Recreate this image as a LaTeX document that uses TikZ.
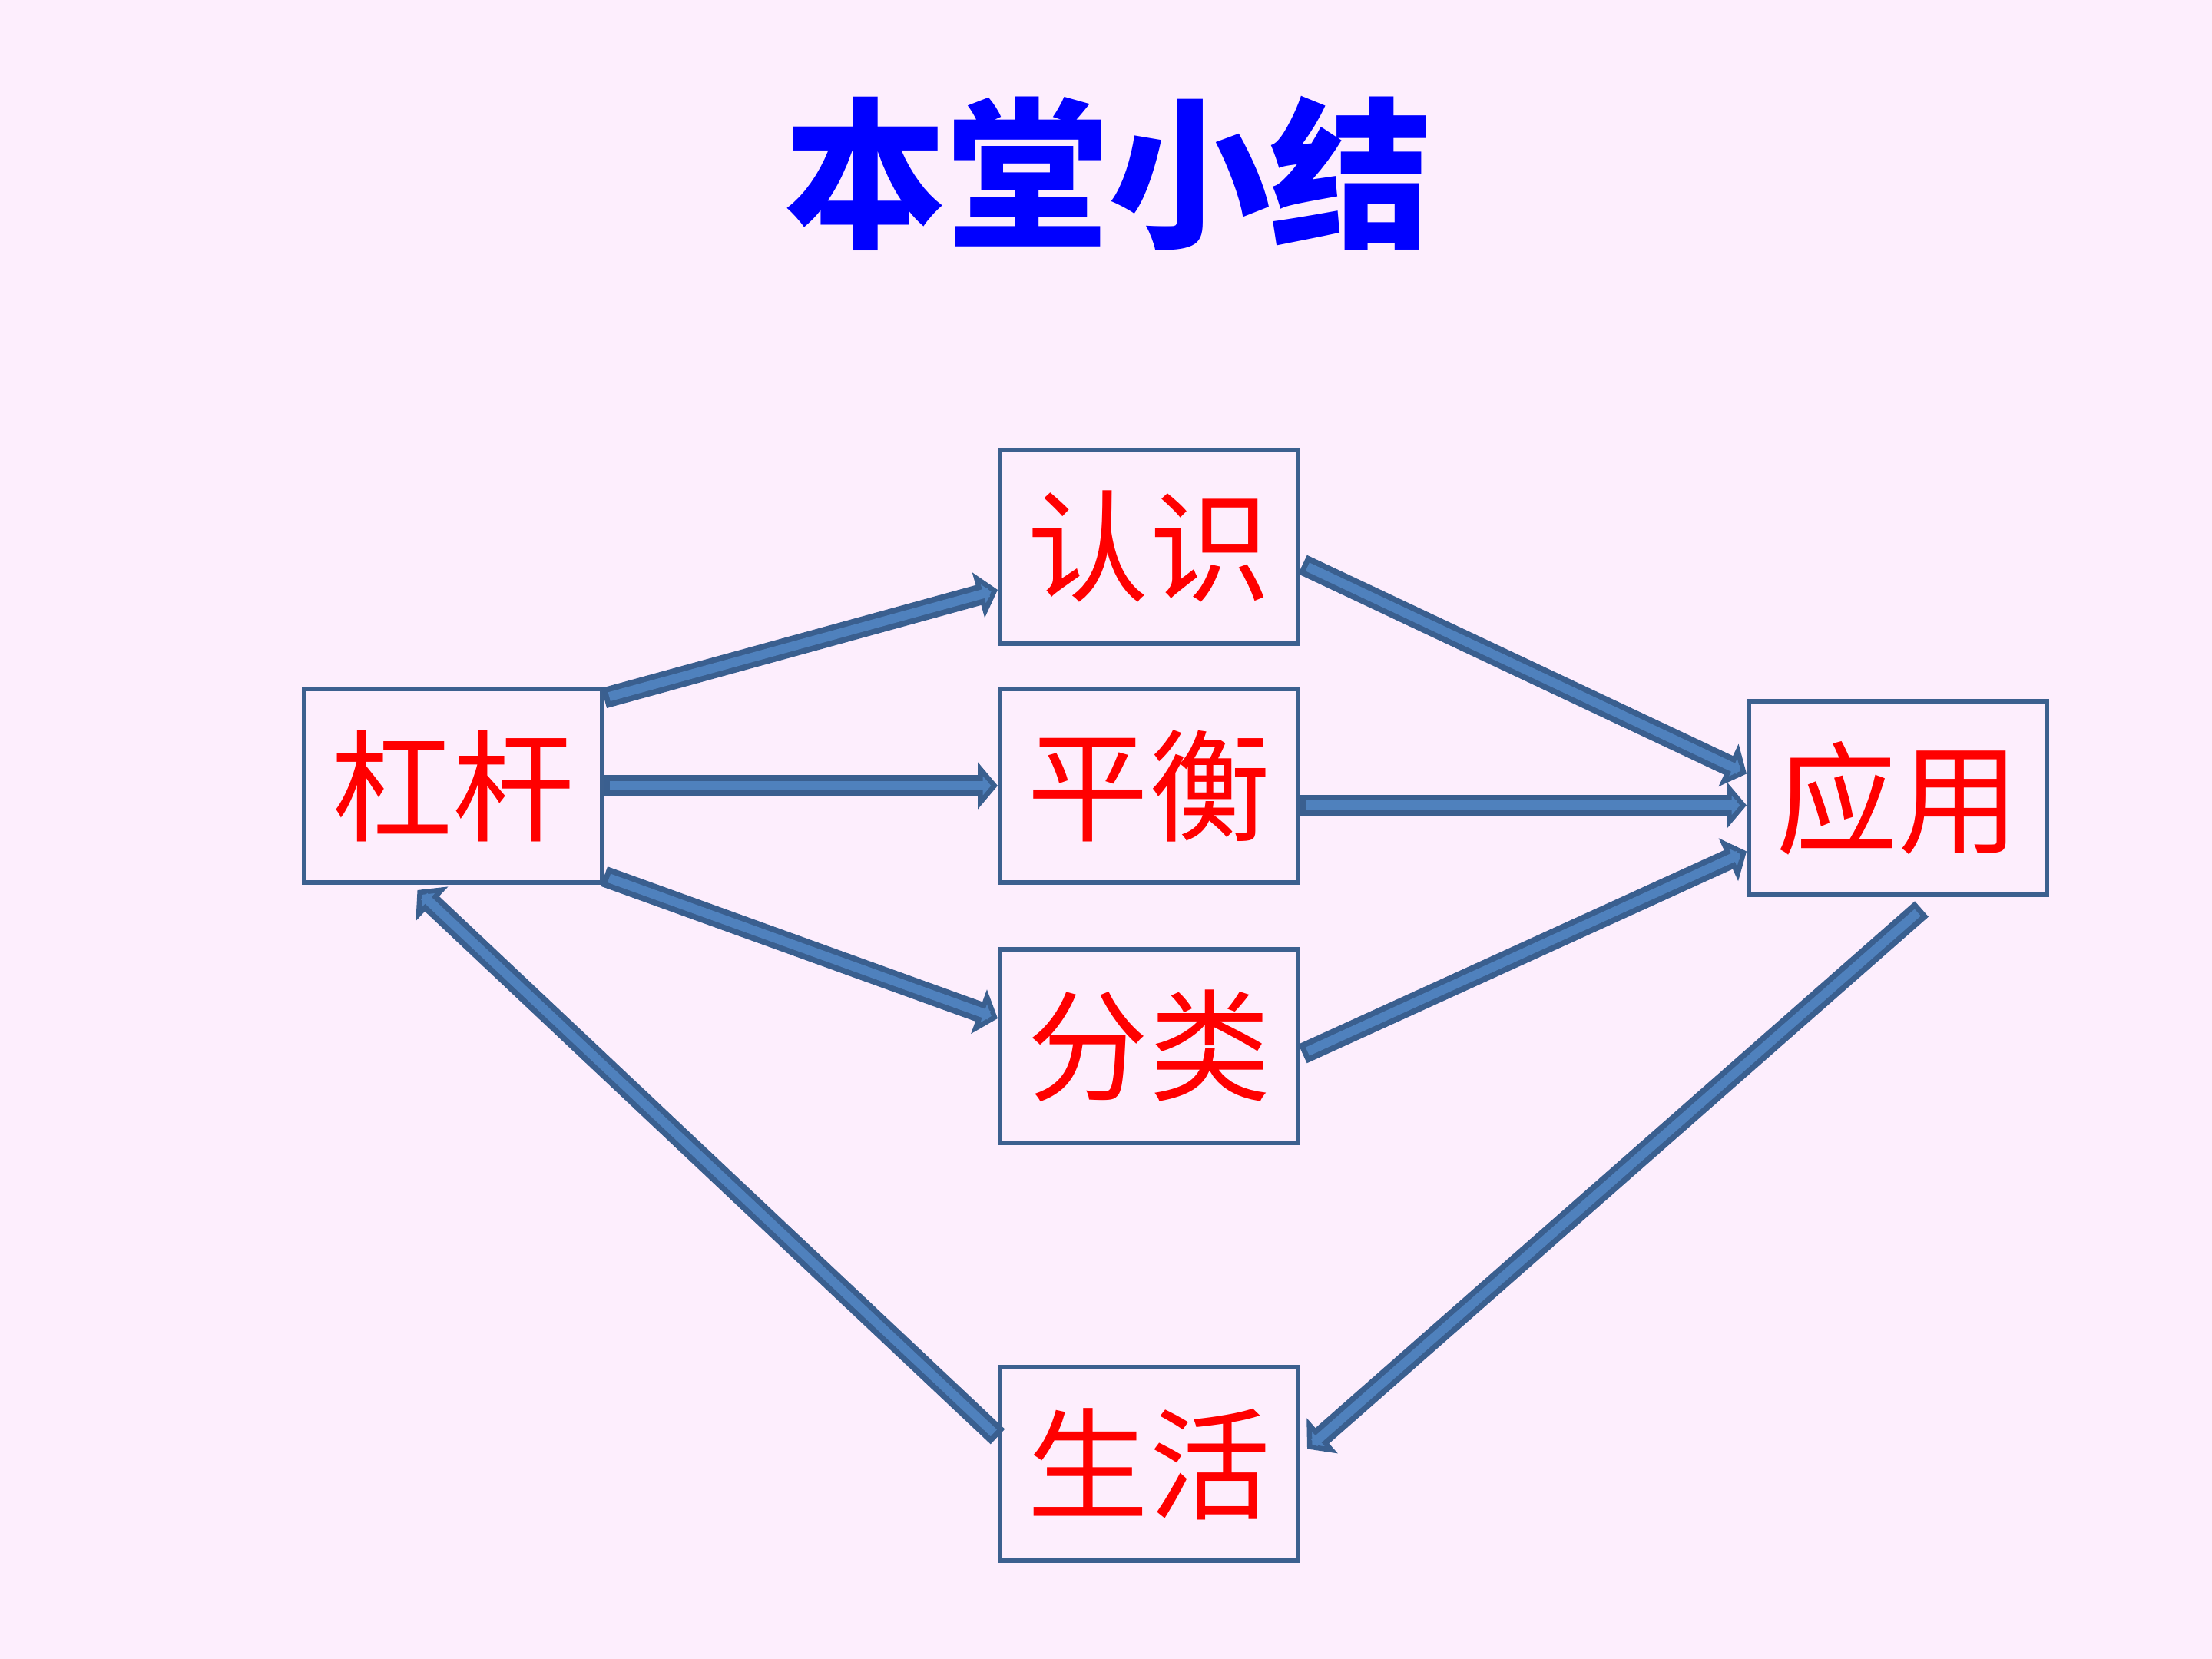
\documentclass[tikz,border=0pt]{standalone}
\usepackage{fontspec}
\newfontfamily\cjk{Noto Sans CJK SC}
\usetikzlibrary{arrows.meta,calc}
\definecolor{bg}{RGB}{253,238,253}
\definecolor{frame}{RGB}{60,96,143}
\definecolor{shaft}{RGB}{58,95,143}
\definecolor{core}{RGB}{79,129,189}
\definecolor{titleblue}{RGB}{0,0,255}
\definecolor{labelred}{RGB}{255,0,0}

\begin{document}
\begin{tikzpicture}[
  box/.style={draw=frame, line width=0.06cm, minimum width=3.88cm, minimum height=2.52cm,
    inner sep=0pt, text=labelred, font=\cjk\fontsize{45}{50}\selectfont},
  flow/.style={draw=shaft, line width=0.27cm,
    -{Triangle[length=0.26cm, width=0.6cm, line width=0.07cm, fill=core]},
    postaction={draw=core, line width=0.12cm, -, shorten >=0.12cm, shorten <=0.07cm}}
]
% page background
\fill[bg] (0,0) rectangle (28.8,21.6);
\useasboundingbox (0,0) rectangle (28.8,21.6);

% heading
\node[text=titleblue, font=\cjk\bfseries\fontsize{60}{66}\selectfont] (title) at (14.43,19.34) {本堂小结};

% concept boxes
\node[box] (g) at (5.895,11.37) {杠杆};
\node[box] (r) at (14.96,14.48) {认识};
\node[box] (p) at (14.96,11.37) {平衡};
\node[box] (f) at (14.96,7.98)  {分类};
\node[box] (y) at (24.71,11.205) {应用};
\node[box] (s) at (14.96,2.535) {生活};

% connectors
\draw[flow] ($(g.north east)+(0,-0.15)$) -- ($(r.west)+(0,-0.56)$);
\draw[flow] (g.east) -- (p.west);
\draw[flow] ($(g.south east)+(0,0.11)$) -- ($(f.west)+(0,0.36)$);
\draw[flow] ($(r.east)+(0.03,-0.23)$) -- ($(y.west)+(0,0.32)$);
\coordinate (yin) at ($(y.west)+(0,-0.09)$);
\draw[flow] (p.east |- yin) -- (yin);
\draw[flow] ($(f.east)+(0.03,-0.10)$) -- ($(y.west)+(0,-0.69)$);
\draw[flow] ($(y.south)+(0.31,-0.15)$) -- ($(s.east)+(0.09,0.20)$);
\draw[flow] ($(s.west)+(0,0.36)$) -- ($(g.south)+(-0.46,-0.07)$);
\end{tikzpicture}
\end{document}
